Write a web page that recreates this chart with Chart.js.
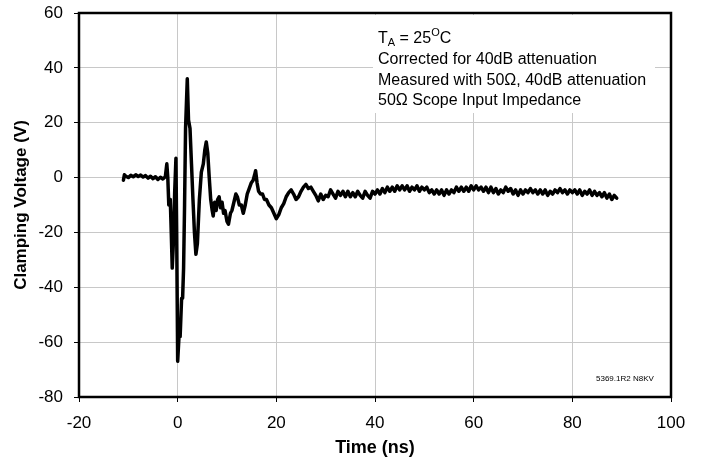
<!DOCTYPE html>
<html>
<head>
<meta charset="utf-8">
<script src="https://cdn.jsdelivr.net/npm/chart.js@4.4.1/dist/chart.umd.min.js"></script>
<style>
  body { margin: 0; background: #fff; }
</style>
</head>
<body>
<canvas id="clamp" width="702" height="461"></canvas>
<script>
// time (ns) and clamping voltage (V)
const times = [
  -11, -10.8, -10.5, -10, -9.5, -9, -8.5, -8, -7.5, -7, -6.5, -6, -5.5, -5, -4.5, -4, -3.5, -3, -2.5,
  -2.2, -2.0, -1.8, -1.5, -1.3, -1.1, -0.9, -0.6, -0.35, -0.2, 0, 0.3, 0.5, 0.8, 1.0, 1.2, 1.4, 1.6, 1.95,
  2.2, 2.5, 2.8, 3.1, 3.4, 3.7, 4.0, 4.4, 4.8, 5.2, 5.5, 5.8, 6.1, 6.4, 6.7, 7.0, 7.2, 7.5, 7.8,
  8.1, 8.4, 8.7, 9.0, 9.3, 9.6, 10.0, 10.3, 10.7, 11.0, 11.4, 11.8, 12.1, 12.5, 12.9, 13.3, 13.7,
  14.1, 14.5, 14.9, 15.3, 15.6, 15.8, 16.1, 16.4, 16.8, 17.2, 17.6, 18.0, 18.5, 19.0, 19.5, 20.0,
  20.5, 21.0, 21.5, 22.0, 22.5, 23.0, 23.5, 24.0, 24.5, 25.0, 25.5, 26.0, 26.5, 27.0, 27.5, 28.0,
  28.5, 29.0, 29.5, 30.0, 30.5, 31.0, 31.5, 32, 32.5, 33, 33.5, 34, 34.5, 35, 35.5, 36, 36.5, 37,
  37.5, 38, 38.5, 39, 39.5, 40, 40.5, 41, 41.5, 42, 42.5, 43, 43.5, 44, 44.5, 45, 45.5, 46, 46.5,
  47, 47.5, 48, 48.5, 49, 49.5, 50, 50.5, 51, 51.5, 52, 52.5, 53, 53.5, 54, 54.5, 55, 55.5, 56,
  56.5, 57, 57.5, 58, 58.5, 59, 59.5, 60, 60.5, 61, 61.5, 62, 62.5, 63, 63.5, 64, 64.5, 65, 65.5,
  66, 66.5, 67, 67.5, 68, 68.5, 69, 69.5, 70, 70.5, 71, 71.5, 72, 72.5, 73, 73.5, 74, 74.5, 75,
  75.5, 76, 76.5, 77, 77.5, 78, 78.5, 79, 79.5, 80, 80.5, 81, 81.5, 82, 82.5, 83, 83.5, 84, 84.5,
  85, 85.5, 86, 86.5, 87, 87.5, 88, 88.5, 89
];
const volts = [
  -1, 1, 0.5, 0, 0.8, 0.3, 1, 0.4, 0.9, 0.2, 0.7, -0.2, 0.5, -0.4, 0.3, -0.7, 0.1, -0.5, 0.3,
  5, 0, -10, -8, -20, -33, -25, -5, 7, -20, -67, -57, -58, -44, -44, -33, -10, 18, 36,
  21, 18, 5, -8, -20, -28, -24, -8, 2, 5, 10, 13, 9, 0, -8, -12, -14, -9, -12,
  -8, -7, -11, -9, -13, -12, -16, -17, -13, -12, -9, -6, -7, -10, -10, -13, -10,
  -6, -4, -2, -1, 1, 2.5, -2, -5, -6, -6, -8, -8, -10, -11, -13, -15,
  -13.5, -11, -9.5, -7, -5.5, -4.5, -6, -8, -7, -5, -3.5, -2.5, -4, -3.5, -5, -6.5,
  -8.5, -6, -8, -6.5, -7, -4.5, -6, -7.5, -5, -6.5, -5, -7, -5, -7, -5.5, -7, -5, -6.5,
  -7.5, -5, -6.5, -7.5, -5, -6, -4.5, -6, -4, -5.5, -3.5, -5, -3.5, -5, -3, -4.5, -3, -4.5, -3,
  -5, -3.5, -4.5, -3, -5, -3.5, -4.5, -3.5, -5.5, -4.5, -6, -4.5, -6, -4.5, -6.5, -4.5, -6, -4.5, -5.5,
  -3.5, -5, -3.5, -5, -3.5, -5, -3, -4.5, -3, -4.5, -3.5, -5, -3.5, -5.5, -3.5, -5.5, -4, -6, -4.5,
  -5.5, -3.5, -5, -4, -6, -4.5, -6.5, -4.5, -6, -4.5, -5.5, -4, -5.5, -4.5, -6, -4.5, -6, -4.5, -6.5,
  -5, -6, -4.5, -5.5, -4, -5.5, -4.5, -6, -4.5, -5.5, -4.5, -6, -4.5, -6.5, -5, -6, -4.5, -6.5, -5,
  -6.5, -5.5, -7, -5.5, -7.5, -6, -8, -6.5, -7.5
];
const xTicks = [-20, 0, 20, 40, 60, 80, 100];
const yTicks = [-80, -60, -40, -20, 0, 20, 40, 60];

const notes = [
  "Corrected for 40dB attenuation",
  "Measured with 50\u03A9, 40dB attenuation",
  "50\u03A9 Scope Input Impedance"
];

const points = times.map((t, i) => ({ x: t, y: volts[i] }));
const fontFam = "'Liberation Sans', Arial, sans-serif";

// white label box with the test conditions, drawn over the grid
const notePlugin = {
  id: "notes",
  beforeDatasetsDraw(chart) {
    const c = chart.ctx;
    c.save();
    c.fillStyle = "#fff";
    c.fillRect(373, 15, 282, 98);
    c.fillStyle = "#000";
    c.textBaseline = "alphabetic";
    c.font = "16px " + fontFam;
    let x = 378;
    c.fillText("T", x, 43);
    x += c.measureText("T").width;
    c.font = "11px " + fontFam;
    c.fillText("A", x, 46);
    x += c.measureText("A").width;
    c.font = "16px " + fontFam;
    c.fillText(" = 25", x, 43);
    x += c.measureText(" = 25").width;
    c.font = "11px " + fontFam;
    c.fillText("O", x, 36);
    x += c.measureText("O").width;
    c.font = "16px " + fontFam;
    c.fillText("C", x, 43);
    notes.forEach((s, i) => c.fillText(s, 378, 64 + i * 20.7));
    c.font = "8px " + fontFam;
    c.fillText("5369.1R2 N8KV", 596, 381);
    c.restore();
  },
  afterDraw(chart) {
    const a = chart.chartArea;
    const c = chart.ctx;
    c.save();
    c.strokeStyle = "#000";
    c.lineWidth = 2.5;
    c.strokeRect(a.left, a.top, a.right - a.left, a.bottom - a.top);
    c.restore();
  }
};

new Chart(document.getElementById("clamp"), {
  type: "scatter",
  data: {
    datasets: [{
      data: points,
      showLine: true,
      borderColor: "#000",
      borderWidth: 3.5,
      borderJoinStyle: "round",
      borderCapStyle: "round",
      pointRadius: 0,
      tension: 0
    }]
  },
  options: {
    responsive: false,
    animation: false,
    layout: { padding: { top: 13, right: 31, left: 0, bottom: 0 } },
    plugins: { legend: { display: false }, tooltip: { enabled: false } },
    scales: {
      x: {
        type: "linear",
        min: -20,
        max: 100,
        afterBuildTicks: (s) => { s.ticks = xTicks.map(v => ({ value: v })); },
        afterFit: (s) => { s.height = 64; s.paddingLeft = 0; s.paddingRight = 0; },
        grid: { color: "#c8c8c8", tickColor: "#000", tickLength: 5 },
        border: { color: "#000", width: 2 },
        ticks: { color: "#000", font: { family: fontFam, size: 17 }, padding: 11, maxRotation: 0 },
        title: { display: true, text: "Time (ns)", color: "#000", font: { family: fontFam, size: 18, weight: "bold" }, padding: { top: 0, bottom: 2 } }
      },
      y: {
        type: "linear",
        min: -80,
        max: 60,
        afterBuildTicks: (s) => { s.ticks = yTicks.map(v => ({ value: v })); },
        afterFit: (s) => { s.width = 79; s.paddingTop = 0; s.paddingBottom = 0; },
        grid: { color: "#c8c8c8", tickColor: "#000", tickLength: 5 },
        border: { color: "#000", width: 2 },
        ticks: { color: "#000", font: { family: fontFam, size: 17 }, padding: 11 },
        title: { display: true, text: "Clamping Voltage (V)", color: "#000", font: { family: fontFam, size: 17, weight: "bold" }, padding: { top: 11 } }
      }
    }
  },
  plugins: [notePlugin]
});
</script>
</body>
</html>
